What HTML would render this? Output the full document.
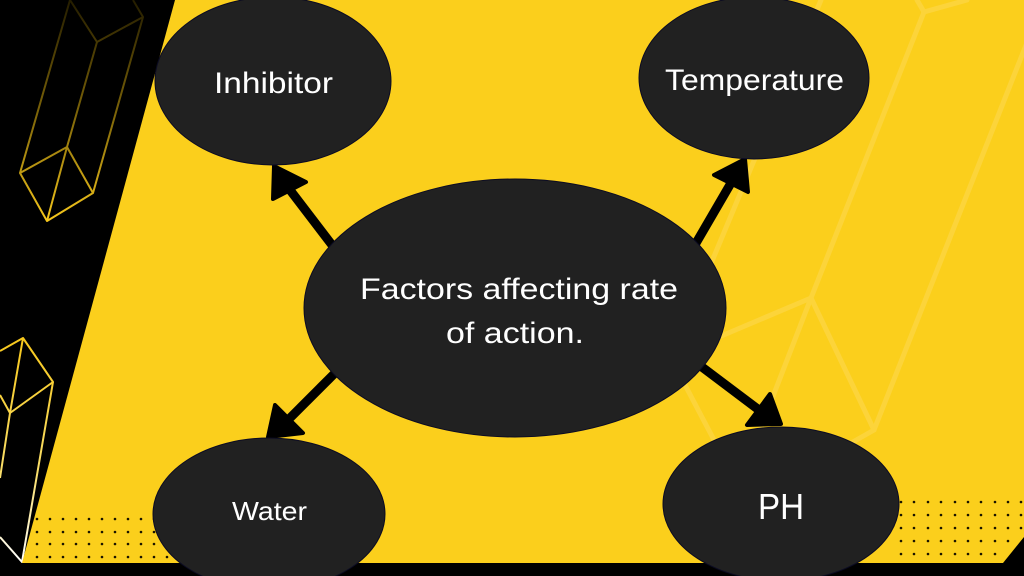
<!DOCTYPE html>
<html>
<head>
<meta charset="utf-8">
<style>
html,body{margin:0;padding:0;background:#000;}
svg{display:block;}
text{font-family:"Liberation Sans",Arial,sans-serif;fill:#fff;}
</style>
</head>
<body>
<svg width="1024" height="576" viewBox="0 0 1024 576" xmlns="http://www.w3.org/2000/svg">
<defs>
<linearGradient id="g1" x1="0" y1="0" x2="0" y2="222" gradientUnits="userSpaceOnUse">
<stop offset="0" stop-color="#241d00"/>
<stop offset="0.5" stop-color="#7a6208"/>
<stop offset="1" stop-color="#f7c81c"/>
</linearGradient>
<linearGradient id="g2" x1="0" y1="338" x2="0" y2="563" gradientUnits="userSpaceOnUse">
<stop offset="0" stop-color="#f7c81c"/>
<stop offset="0.6" stop-color="#f9de6a"/>
<stop offset="1" stop-color="#ffffff"/>
</linearGradient>
</defs>

<rect width="1024" height="576" fill="#000"/>

<!-- crystal 1 -->
<g fill="none" stroke="url(#g1)" stroke-width="2" stroke-linejoin="round">
<path d="M70,0 L20,173 L47,221 L93,193 L143,17 L133,0"/>
<path d="M70,0 L97,42 L143,17"/>
<path d="M97,42 L67,147 L20,173"/>
<path d="M67,147 L93,193"/>
<path d="M67,147 L47,221"/>
</g>
<!-- crystal 2 -->
<g fill="none" stroke="url(#g2)" stroke-width="2" stroke-linejoin="round">
<path d="M0,351 L23,338 L53,382 L10,413 L0,395"/>
<path d="M23,338 L10,413 L0,478"/>
<path d="M53,382 L22,562 L0,537"/>
</g>

<!-- yellow area -->
<polygon points="175,0 1024,0 1024,537 1003,563 22,563" fill="#fbcf1c"/>

<!-- faint decorative lines -->
<g fill="none" stroke="#fcd43a" stroke-width="5" stroke-linejoin="round" stroke-linecap="round">
<path d="M967,0 L924,12 L917,0"/>
<path d="M924,12 L811,298 L874,430 L844,447"/>
<path d="M1028,40 L874,430"/>
<path d="M821,0 L700,290"/>
<path d="M811,298 L700,345"/>
<path d="M811,298 L760,430"/>
<path d="M684,383 L714,440"/>
</g>

<!-- dots -->
<g fill="#1a1400">
<circle cx="37" cy="519" r="1.3"/><circle cx="50" cy="519" r="1.3"/><circle cx="63" cy="519" r="1.3"/><circle cx="76" cy="519" r="1.3"/><circle cx="89" cy="519" r="1.3"/><circle cx="102" cy="519" r="1.3"/><circle cx="115" cy="519" r="1.3"/><circle cx="128" cy="519" r="1.3"/><circle cx="141" cy="519" r="1.3"/><circle cx="154" cy="519" r="1.3"/><circle cx="167" cy="519" r="1.3"/>
<circle cx="37" cy="532" r="1.3"/><circle cx="50" cy="532" r="1.3"/><circle cx="63" cy="532" r="1.3"/><circle cx="76" cy="532" r="1.3"/><circle cx="89" cy="532" r="1.3"/><circle cx="102" cy="532" r="1.3"/><circle cx="115" cy="532" r="1.3"/><circle cx="128" cy="532" r="1.3"/><circle cx="141" cy="532" r="1.3"/><circle cx="154" cy="532" r="1.3"/><circle cx="167" cy="532" r="1.3"/>
<circle cx="37" cy="544" r="1.3"/><circle cx="50" cy="544" r="1.3"/><circle cx="63" cy="544" r="1.3"/><circle cx="76" cy="544" r="1.3"/><circle cx="89" cy="544" r="1.3"/><circle cx="102" cy="544" r="1.3"/><circle cx="115" cy="544" r="1.3"/><circle cx="128" cy="544" r="1.3"/><circle cx="141" cy="544" r="1.3"/><circle cx="154" cy="544" r="1.3"/><circle cx="167" cy="544" r="1.3"/>
<circle cx="37" cy="557" r="1.3"/><circle cx="50" cy="557" r="1.3"/><circle cx="63" cy="557" r="1.3"/><circle cx="76" cy="557" r="1.3"/><circle cx="89" cy="557" r="1.3"/><circle cx="102" cy="557" r="1.3"/><circle cx="115" cy="557" r="1.3"/><circle cx="128" cy="557" r="1.3"/><circle cx="141" cy="557" r="1.3"/><circle cx="154" cy="557" r="1.3"/><circle cx="167" cy="557" r="1.3"/>

<circle cx="901" cy="502" r="1.3"/><circle cx="914" cy="502" r="1.3"/><circle cx="928" cy="502" r="1.3"/><circle cx="941" cy="502" r="1.3"/><circle cx="955" cy="502" r="1.3"/><circle cx="968" cy="502" r="1.3"/><circle cx="981" cy="502" r="1.3"/><circle cx="995" cy="502" r="1.3"/><circle cx="1008" cy="502" r="1.3"/><circle cx="1021" cy="502" r="1.3"/>
<circle cx="901" cy="515" r="1.3"/><circle cx="914" cy="515" r="1.3"/><circle cx="928" cy="515" r="1.3"/><circle cx="941" cy="515" r="1.3"/><circle cx="955" cy="515" r="1.3"/><circle cx="968" cy="515" r="1.3"/><circle cx="981" cy="515" r="1.3"/><circle cx="995" cy="515" r="1.3"/><circle cx="1008" cy="515" r="1.3"/><circle cx="1021" cy="515" r="1.3"/>
<circle cx="901" cy="528" r="1.3"/><circle cx="914" cy="528" r="1.3"/><circle cx="928" cy="528" r="1.3"/><circle cx="941" cy="528" r="1.3"/><circle cx="955" cy="528" r="1.3"/><circle cx="968" cy="528" r="1.3"/><circle cx="981" cy="528" r="1.3"/><circle cx="995" cy="528" r="1.3"/><circle cx="1008" cy="528" r="1.3"/><circle cx="1021" cy="528" r="1.3"/>
<circle cx="901" cy="541" r="1.3"/><circle cx="914" cy="541" r="1.3"/><circle cx="928" cy="541" r="1.3"/><circle cx="941" cy="541" r="1.3"/><circle cx="955" cy="541" r="1.3"/><circle cx="968" cy="541" r="1.3"/><circle cx="981" cy="541" r="1.3"/><circle cx="995" cy="541" r="1.3"/><circle cx="1008" cy="541" r="1.3"/>
<circle cx="901" cy="554" r="1.3"/><circle cx="914" cy="554" r="1.3"/><circle cx="928" cy="554" r="1.3"/><circle cx="941" cy="554" r="1.3"/><circle cx="955" cy="554" r="1.3"/><circle cx="968" cy="554" r="1.3"/><circle cx="981" cy="554" r="1.3"/><circle cx="995" cy="554" r="1.3"/>
</g>

<!-- arrows -->
<g stroke="#000" fill="#000" stroke-linejoin="round">
<line x1="345" y1="262" x2="290" y2="190" stroke-width="9"/>
<polygon points="274,166 273,199 306,182" stroke-width="4"/>

<line x1="685" y1="262" x2="731" y2="183" stroke-width="9"/>
<polygon points="745,159 714,175 748,192" stroke-width="4"/>

<line x1="690" y1="358" x2="759" y2="410" stroke-width="9"/>
<polygon points="781,424 770,394 747,425" stroke-width="4"/>

<line x1="345" y1="363" x2="289" y2="419" stroke-width="9"/>
<polygon points="268,437 275,405 303,433" stroke-width="4"/>
</g>

<!-- ellipses -->
<g fill="#212121" stroke="#0b0b22" stroke-width="1">
<ellipse cx="273" cy="81" rx="118" ry="84"/>
<ellipse cx="754" cy="78" rx="115" ry="81"/>
<ellipse cx="515" cy="308" rx="211" ry="129"/>
</g>

<!-- bottom strip -->
<rect x="0" y="563" width="1024" height="13" fill="#000"/>

<g fill="#212121" stroke="#0b0b22" stroke-width="1">
<ellipse cx="269" cy="514" rx="116" ry="76"/>
<ellipse cx="781" cy="504" rx="118" ry="77"/>
</g>

<!-- labels -->
<text x="214" y="93" font-size="30" textLength="119" lengthAdjust="spacingAndGlyphs">Inhibitor</text>
<text x="665" y="90" font-size="30" textLength="179" lengthAdjust="spacingAndGlyphs">Temperature</text>
<text x="360" y="299" font-size="30" textLength="318" lengthAdjust="spacingAndGlyphs">Factors affecting rate</text>
<text x="446" y="343" font-size="30" textLength="138" lengthAdjust="spacingAndGlyphs">of action.</text>
<text x="232" y="520" font-size="26" textLength="75" lengthAdjust="spacingAndGlyphs">Water</text>
<text x="758" y="519" font-size="36" textLength="46" lengthAdjust="spacingAndGlyphs">PH</text>
</svg>
</body>
</html>
